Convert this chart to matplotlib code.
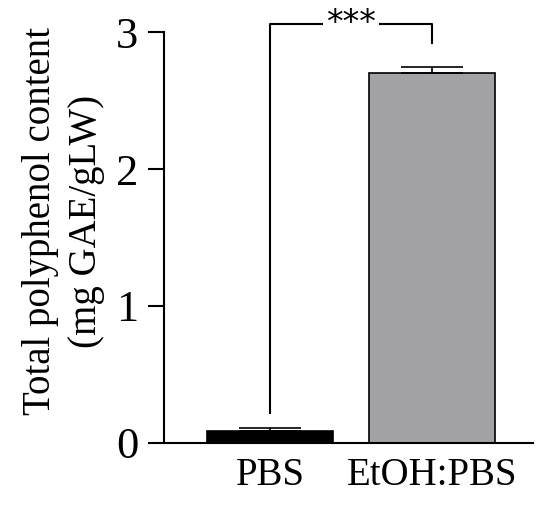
import matplotlib
matplotlib.use('Agg')
import matplotlib.pyplot as plt

groups = ['PBS', 'EtOH:PBS']
values = [0.09, 2.70]
errors = [0.02, 0.045]
colors = ['black', '#a3a3a7']
bracket_y = 3.06
bracket_legs = [0.22, 2.92]

plt.rcParams['font.family'] = ['Liberation Serif', 'DejaVu Serif']

fig = plt.figure(figsize=(5.5, 5.09), dpi=100)
ax = fig.add_axes([0.298, 0.1297, 0.671, 0.8074])

x = list(range(len(groups)))
ax.bar(x, values, width=0.78, color=colors, edgecolor='black', linewidth=1.2)
ax.errorbar(x, values, yerr=[[0, 0], errors], fmt='none', ecolor='black',
            elinewidth=1.2, capsize=22, capthick=1.2)

# significance bracket
ax.plot([0, 0, 1, 1], [bracket_legs[0], bracket_y, bracket_y, bracket_legs[1]],
        color='black', lw=1.5, clip_on=False)
ax.text(0.5, bracket_y, '***', ha='center', va='center', fontsize=24,
        family='DejaVu Sans', bbox=dict(facecolor='white', edgecolor='none', pad=2))

ax.set_xlim(-0.654, 1.623)
ax.set_ylim(0, 3)
ax.set_yticks([0, 1, 2, 3])
ax.set_xticks(x)
ax.set_xticklabels(groups)
ax.tick_params(axis='y', direction='out', length=11.5, width=1.5, labelsize=32, pad=7)
ax.tick_params(axis='x', length=0, labelsize=28, pad=10)
ax.spines['top'].set_visible(False)
ax.spines['right'].set_visible(False)
ax.spines['left'].set_linewidth(1.5)
ax.spines['bottom'].set_linewidth(1.5)
ax.set_ylabel('Total polyphenol content\n(mg GAE/gLW)', fontsize=28, linespacing=1.3)
ax.yaxis.set_label_coords(-0.16, 0.54)

plt.savefig('out.png', dpi=100)
